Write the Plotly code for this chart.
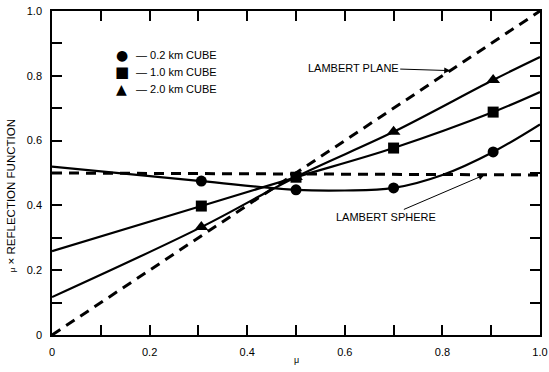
import plotly.graph_objects as go

# ---- data ----
mu_curve_02 = [0.0, 0.306, 0.5, 0.6, 0.7, 0.8, 0.904, 1.0]
rf_curve_02 = [0.52, 0.475, 0.448, 0.446, 0.454, 0.494, 0.565, 0.65]
mu_curve_10 = [0.0, 0.306, 0.5, 0.7, 0.904, 1.0]
rf_curve_10 = [0.259, 0.398, 0.487, 0.577, 0.688, 0.75]
mu_curve_20 = [0.0, 0.306, 0.5, 0.7, 0.904, 1.0]
rf_curve_20 = [0.117, 0.333, 0.488, 0.627, 0.787, 0.858]

mu_marks = [0.306, 0.5, 0.7, 0.904]
rf_marks_02 = [0.475, 0.448, 0.454, 0.565]
rf_marks_10 = [0.398, 0.487, 0.577, 0.688]
rf_marks_20 = [0.333, 0.488, 0.627, 0.787]

mu_plane = [0.0, 1.0]
rf_plane = [0.0, 1.0]
mu_sphere = [0.0, 1.0]
rf_sphere = [0.50, 0.494]

series_names = ["— 0.2 km CUBE", "— 1.0 km CUBE", "— 2.0 km CUBE"]
series_symbols = ["circle", "square", "triangle-up"]
legend_glyphs = ["●", "■", "▲"]

tick_vals = [0, 0.2, 0.4, 0.6, 0.8, 1.0]
tick_text = ["0", "0.2", "0.4", "0.6", "0.8", "1.0"]
minor_vals = [0.1, 0.3, 0.5, 0.7, 0.9]

FONT = "Liberation Sans, Arial, sans-serif"

fig = go.Figure()

# dashed Lambert reference lines
fig.add_trace(go.Scatter(x=mu_plane, y=rf_plane, mode="lines",
                         line=dict(color="black", width=3, dash="10px,7px"),
                         showlegend=False, hoverinfo="skip"))
fig.add_trace(go.Scatter(x=mu_sphere, y=rf_sphere, mode="lines",
                         line=dict(color="black", width=3, dash="10px,7px"),
                         showlegend=False, hoverinfo="skip"))

curves = [(mu_curve_02, rf_curve_02), (mu_curve_10, rf_curve_10), (mu_curve_20, rf_curve_20)]
marks = [rf_marks_02, rf_marks_10, rf_marks_20]

for (cx, cy) in curves:
    fig.add_trace(go.Scatter(x=cx, y=cy, mode="lines",
                             line=dict(color="black", width=2.2, shape="spline", smoothing=1.0),
                             showlegend=False, hoverinfo="skip"))

for name, sym, ys in zip(series_names, series_symbols, marks):
    fig.add_trace(go.Scatter(x=mu_marks, y=ys, mode="markers", name=name,
                             marker=dict(symbol=sym, size=11 if sym != "triangle-up" else 12,
                                         color="black"),
                             showlegend=False))

axis_common = dict(
    range=[0, 1.0], showgrid=False, zeroline=False, automargin=False,
    showline=True, linecolor="black", linewidth=1.5, mirror="allticks",
    ticks="inside", ticklen=10, tickwidth=1.5, tickcolor="black",
    tickvals=tick_vals, ticktext=tick_text,
    minor=dict(ticks="inside", tickvals=minor_vals, ticklen=10, tickwidth=1.5,
               tickcolor="black"),
    tickfont=dict(family=FONT, size=11, color="black"),
    ticklabelstandoff=6,
)

fig.update_xaxes(**axis_common)
fig.update_yaxes(**axis_common)

# legend drawn as text rows (glyph + label), positioned in paper units
legend_rows_y = [0.864, 0.812, 0.759]
legend_ann = []
for g, name, yy in zip(legend_glyphs, series_names, legend_rows_y):
    legend_ann.append(dict(text=g, xref="paper", yref="paper", x=0.143, y=yy,
                           xanchor="center", yanchor="middle", showarrow=False,
                           font=dict(family="DejaVu Sans", size=14 if g != "■" else 15, color="black")))
    legend_ann.append(dict(text=name, xref="paper", yref="paper", x=0.168, y=yy,
                           xanchor="left", yanchor="middle", showarrow=False,
                           font=dict(family=FONT, size=11, color="black")))

fig.update_layout(
    template="none",
    width=549, height=372,
    margin=dict(l=52, r=9, t=11, b=37),
    plot_bgcolor="white", paper_bgcolor="white",
    font=dict(family=FONT, size=11, color="black"),
    showlegend=False,
    annotations=legend_ann + [
        dict(text="μ", xref="paper", yref="paper", x=0.5, y=-0.055,
             xanchor="center", yanchor="top", showarrow=False,
             font=dict(family=FONT, size=9, color="black")),
        dict(text="<span style='font-size:8px'>μ</span> × REFLECTION FUNCTION",
             xref="paper", yref="paper", x=-0.085, y=0.43,
             xanchor="center", yanchor="middle", textangle=-90, showarrow=False,
             font=dict(family=FONT, size=11.5, color="black")),
        dict(text="LAMBERT PLANE", xref="x", yref="y", x=0.816, y=0.816,
             ax=-97, ay=-3, axref="pixel", ayref="pixel",
             showarrow=True, arrowhead=2, arrowsize=1.2, arrowwidth=1, arrowcolor="black",
             font=dict(family=FONT, size=11, color="black")),
        dict(text="LAMBERT SPHERE", xref="x", yref="y", x=0.886, y=0.494,
             ax=-98, ay=42, axref="pixel", ayref="pixel",
             showarrow=True, arrowhead=2, arrowsize=1.2, arrowwidth=1, arrowcolor="black",
             font=dict(family=FONT, size=11, color="black")),
    ],
)

fig.write_html("out.html", config={"displayModeBar": False},
               post_script="document.body.style.margin='0';document.body.style.overflow='hidden';")
